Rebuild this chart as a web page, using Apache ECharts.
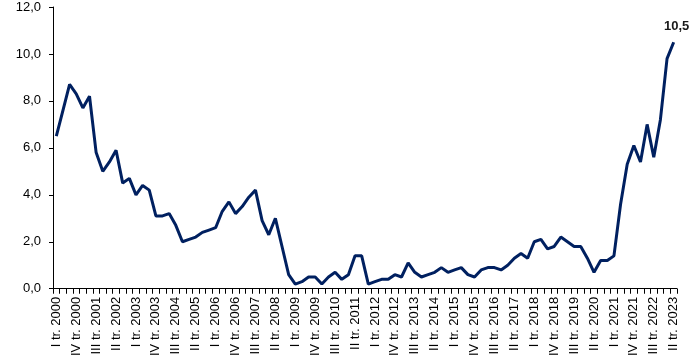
<!DOCTYPE html>
<html>
<head>
<meta charset="utf-8">
<script src="https://cdn.jsdelivr.net/npm/echarts@6/dist/echarts.min.js"></script>
<style>html,body{margin:0;padding:0;background:#fff}#c{width:700px;height:359px}</style>
</head>
<body>
<div id="c"></div>
<script>
const years = [2000,2001,2002,2003,2004,2005,2006,2007,2008,2009,2010,2011,2012,2013,2014,2015,2016,2017,2018,2019,2020,2021,2022,2023];
const quarters = ['I','II','III','IV'];
const values = [
  6.5, 7.6, 8.7, 8.3,
  7.7, 8.2, 5.8, 5.0,
  5.4, 5.9, 4.5, 4.7,
  4.0, 4.4, 4.2, 3.1,
  3.1, 3.2, 2.7, 2.0,
  2.1, 2.2, 2.4, 2.5,
  2.6, 3.3, 3.7, 3.2,
  3.5, 3.9, 4.2, 2.9,
  2.3, 3.0, 1.8, 0.6,
  0.2, 0.3, 0.5, 0.5,
  0.2, 0.5, 0.7, 0.4,
  0.6, 1.4, 1.4, 0.2,
  0.3, 0.4, 0.4, 0.6,
  0.5, 1.1, 0.7, 0.5,
  0.6, 0.7, 0.9, 0.7,
  0.8, 0.9, 0.6, 0.5,
  0.8, 0.9, 0.9, 0.8,
  1.0, 1.3, 1.5, 1.3,
  2.0, 2.1, 1.7, 1.8,
  2.2, 2.0, 1.8, 1.8,
  1.3, 0.7, 1.2, 1.2,
  1.4, 3.6, 5.3, 6.1,
  5.4, 7.0, 5.6, 7.2,
  9.8, 10.5
];
const categories = [];
years.forEach(y => quarters.forEach(q => categories.push(q + ' tr. ' + y)));
categories.length = values.length;

const lastIdx = values.length - 1;
const seriesData = values.map((v, i) => i === lastIdx ? {
  value: v,
  label: {show: true, position: 'top', distance: 9, offset: [3, 0],
          formatter: p => String(p.value).replace('.', ','),
          fontFamily: 'Liberation Sans, Arial, sans-serif', fontWeight: 'bold', fontSize: 13, color: '#1a1a1a'}
} : v);

const chart = echarts.init(document.getElementById('c'), null, {renderer: 'canvas'});
chart.setOption({
  animation: false,
  grid: {left: 53, right: 23, top: 7, bottom: 67, containLabel: false},
  xAxis: {
    type: 'category',
    data: categories,
    boundaryGap: true,
    axisLine: {show: true, lineStyle: {color: '#000', width: 1}},
    axisTick: {show: true, interval: 0, length: 5, lineStyle: {color: '#000'}},
    axisLabel: {interval: 2, rotate: 90, margin: 8, fontSize: 13, color: '#000',
                fontFamily: 'Liberation Sans, Arial, sans-serif'},
    splitLine: {show: false}
  },
  yAxis: {
    type: 'value',
    min: 0, max: 12, interval: 2,
    axisLine: {show: true, lineStyle: {color: '#000', width: 1}},
    axisTick: {show: true, length: 4, lineStyle: {color: '#000'}},
    axisLabel: {margin: 12, fontSize: 13, color: '#000',
                fontFamily: 'Liberation Sans, Arial, sans-serif',
                formatter: v => v.toFixed(1).replace('.', ',')},
    splitLine: {show: false}
  },
  series: [{
    type: 'line',
    data: seriesData,
    symbol: 'circle',
    symbolSize: 0,
    showSymbol: true,
    showAllSymbol: true,
    lineStyle: {color: '#002060', width: 3},
    itemStyle: {color: '#002060'}
  }]
});
</script>
</body>
</html>
